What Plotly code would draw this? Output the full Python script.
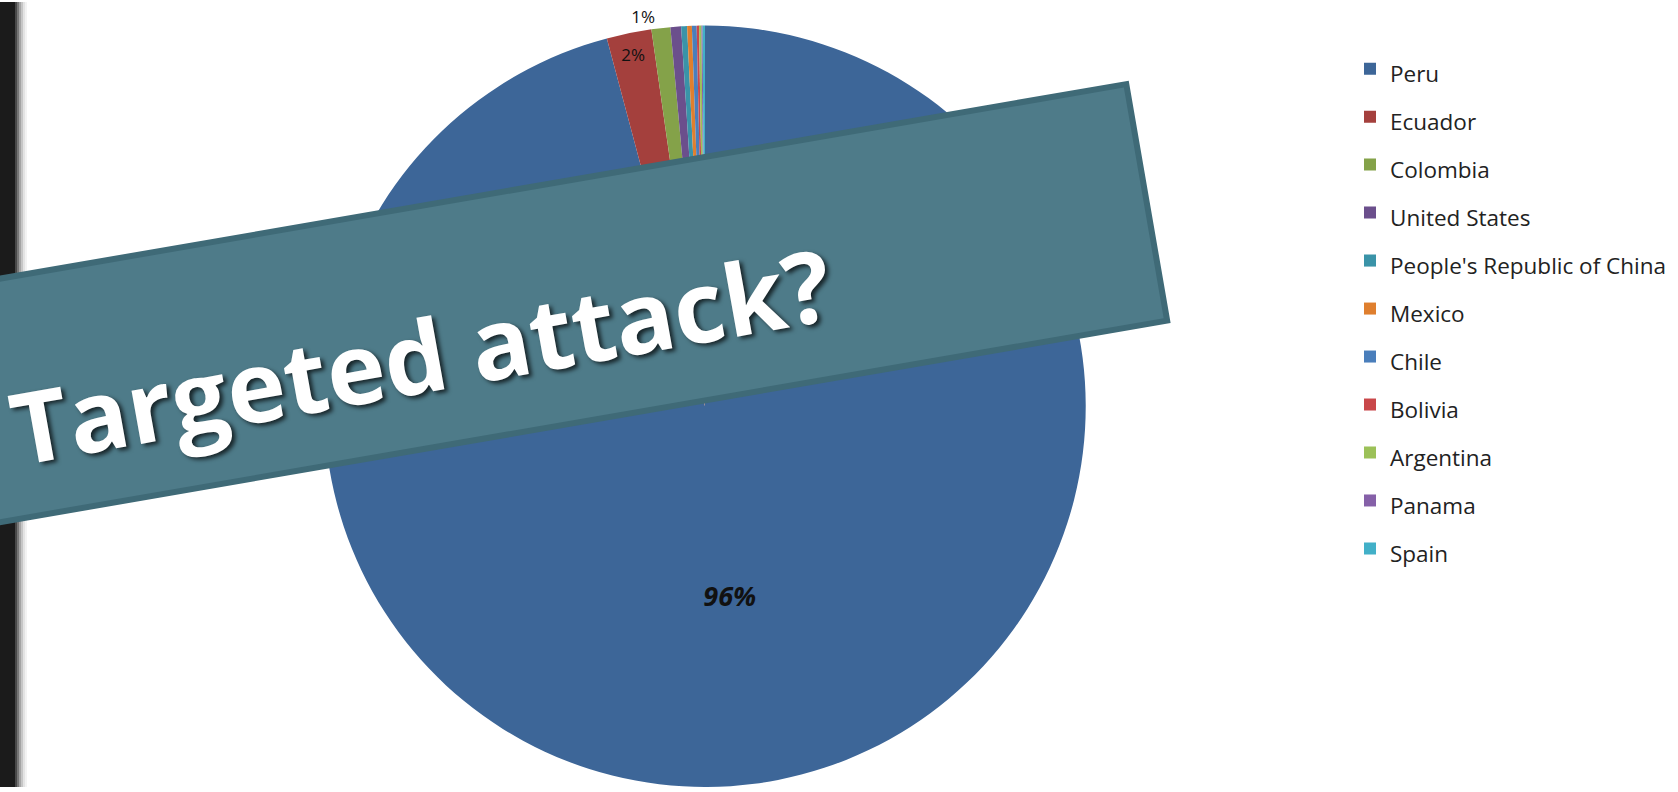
import plotly.graph_objects as go

# ---- data ----
countries = ["Peru", "Ecuador", "Colombia", "United States", "People's Republic of China",
             "Mexico", "Chile", "Bolivia", "Argentina", "Panama", "Spain"]
shares = [95.85, 1.9, 0.8, 0.45, 0.25, 0.2, 0.2, 0.1, 0.1, 0.05, 0.1]
slice_colors = ["#3D6698", "#A4403D", "#84A249", "#6B4F8C", "#3A93A8", "#DF7F2E",
                "#4A7EBB", "#C9474A", "#9CC158", "#8560A8", "#42B0C8"]
banner_text = "Targeted attack?"

W, H = 1678, 792

def px(x):
    return x / W

def py(y):
    return 1 - y / H

labels_text = [f"{round(v)}%" if round(v) >= 1 else "" for v in shares]
text_pos = ["inside", "inside", "outside"] + ["inside"] * (len(shares) - 3)
legend_labels = [f"<span style='font-size:22.5px'>{c}</span>" for c in countries]

fig = go.Figure(go.Pie(
    labels=legend_labels,
    values=shares,
    text=labels_text,
    textinfo="text",
    textposition=text_pos,
    insidetextorientation="horizontal",
    sort=False,
    direction="clockwise",
    rotation=0,
    marker=dict(colors=slice_colors, line=dict(width=0)),
    textfont=dict(family="Open Sans", size=17, color="#111111"),
    domain=dict(x=[px(300), px(1110)], y=[0.0, 0.97]),
    hoverinfo="label+percent",
))

fig.data[0].insidetextfont = dict(
    family="Open Sans", color="#111111",
    size=[27, 17] + [12] * (len(shares) - 2),
    weight=["bold", "normal"] + ["normal"] * (len(shares) - 2),
    style=["italic", "normal"] + ["normal"] * (len(shares) - 2),
)

shapes = []
# dark strip on the left
shapes.append(dict(type="rect", xref="paper", yref="paper", x0=0, x1=px(15), y0=0, y1=1,
                   fillcolor="#1b1b1b", line=dict(width=0), layer="above"))
for i, op in enumerate([0.8, 0.6, 0.4, 0.25, 0.12, 0.05]):
    shapes.append(dict(type="rect", xref="paper", yref="paper", x0=px(15 + i * 2), x1=px(17 + i * 2),
                       y0=0, y1=1, fillcolor=f"rgba(27,27,27,{op})", line=dict(width=0), layer="above"))

annotations = []
# banner box
annotations.append(dict(
    x=px(454), y=py(323), xref="paper", yref="paper", xanchor="center", yanchor="middle",
    text=" ", showarrow=False, width=1400, height=234, textangle=-9.8,
    bgcolor="#4E7B89", bordercolor="#3F6A77", borderwidth=6, borderpad=0,
))
# banner text
annotations.append(dict(
    x=px(420), y=py(356), xref="paper", yref="paper", xanchor="center", yanchor="middle",
    text=banner_text, showarrow=False, textangle=-10.2,
    font=dict(family="Open Sans", size=99, color="white", weight="bold",
              shadow="3px 3px 4px rgba(0,0,0,0.7)"),
))

fig.update_layout(
    width=W, height=H,
    margin=dict(l=0, r=0, t=0, b=0),
    paper_bgcolor="white",
    plot_bgcolor="white",
    showlegend=True,
    legend=dict(x=px(1350), y=py(38), xanchor="left", yanchor="top",
                font=dict(family="Open Sans", size=34.6, color="#222222"),
                valign="middle", bgcolor="rgba(0,0,0,0)", tracegroupgap=0),
    shapes=shapes,
    annotations=annotations,
)

fig.write_html("out.html", config={"displayModeBar": False},
               post_script="document.body.style.margin='0';document.body.style.overflow='hidden';")
